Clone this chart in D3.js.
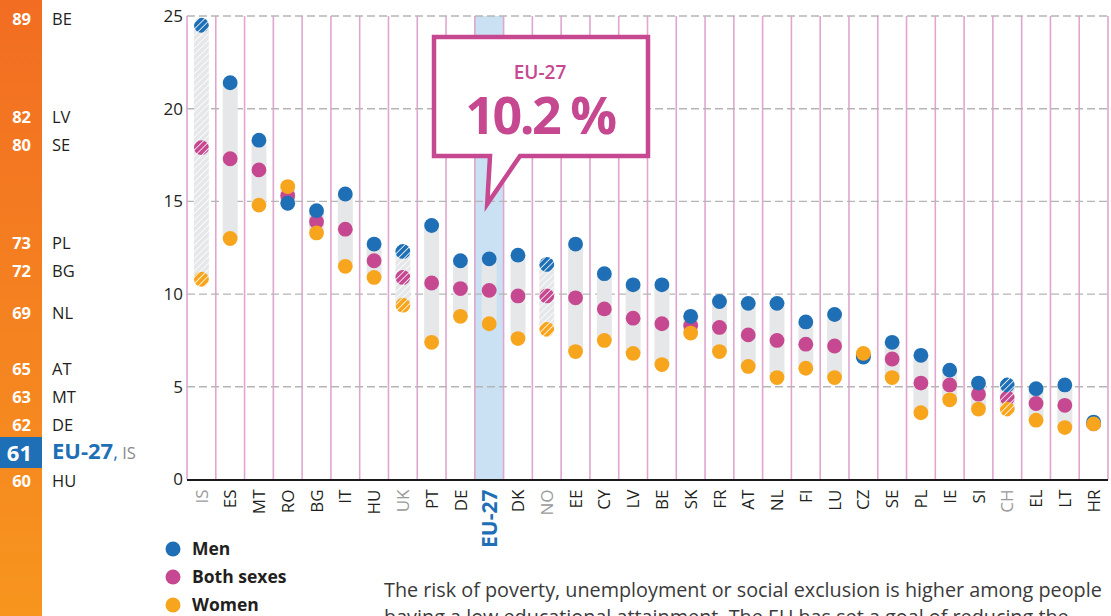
<!DOCTYPE html>
<html>
<head>
<meta charset="utf-8">
<script src="https://cdn.jsdelivr.net/npm/d3@7"></script>
<style>
  body { margin: 0; background: #fff; }
  svg { display: block; font-family: "Open Sans", "Noto Sans", sans-serif; }
</style>
</head>
<body>
<div id="chart"></div>
<script>
// countries, sorted by the men value as in the source
var categories = ["IS", "ES", "MT", "RO", "BG", "IT", "HU", "UK", "PT", "DE", "EU-27", "DK", "NO", "EE", "CY", "LV",
  "BE", "SK", "FR", "AT", "NL", "FI", "LU", "CZ", "SE", "PL", "IE", "SI", "CH", "EL", "LT", "HR"];
var menValues = [24.5, 21.4, 18.3, 14.9, 14.5, 15.4, 12.7, 12.3, 13.7, 11.8, 11.9, 12.1, 11.6, 12.7, 11.1, 10.5,
  10.5, 8.8, 9.6, 9.5, 9.5, 8.5, 8.9, 6.6, 7.4, 6.7, 5.9, 5.2, 5.1, 4.9, 5.1, 3.1];
var bothValues = [17.9, 17.3, 16.7, 15.3, 13.9, 13.5, 11.8, 10.9, 10.6, 10.3, 10.2, 9.9, 9.9, 9.8, 9.2, 8.7,
  8.4, 8.3, 8.2, 7.8, 7.5, 7.3, 7.2, 6.7, 6.5, 5.2, 5.1, 4.6, 4.4, 4.1, 4.0, 3.0];
var womenValues = [10.8, 13.0, 14.8, 15.8, 13.3, 11.5, 10.9, 9.4, 7.4, 8.8, 8.4, 7.6, 8.1, 6.9, 7.5, 6.8,
  6.2, 7.9, 6.9, 6.1, 5.5, 6.0, 5.5, 6.8, 5.5, 3.6, 4.3, 3.8, 3.8, 3.2, 2.8, 3.0];
var nonEU = ["IS", "UK", "NO", "CH"];
var yTicks = [0, 5, 10, 15, 20, 25];

// left strip: ranking cropped from the neighbouring chart
var rankValues = [89, 82, 80, 73, 72, 69, 65, 63, 62, 61, 60];
var rankLabels = ["BE", "LV", "SE", "PL", "BG", "NL", "AT", "MT", "DE", "EU-27", "HU"];

var seriesNames = ["Men", "Both sexes", "Women"];
var calloutLabel = "EU-27";
var calloutValue = "10.2 %";
var noteLines = [
  "The risk of poverty, unemployment or social exclusion is higher among people",
  "having a low educational attainment. The EU has set a goal of reducing the"
];

var colors = { "Men": "#1f6fb6", "Both sexes": "#c54891", "Women": "#f8a51e" };
var seriesValues = { "Men": menValues, "Both sexes": bothValues, "Women": womenValues };

var width = 1111, height = 616;
var svg = d3.select("#chart").append("svg")
  .attr("width", width)
  .attr("height", height);

var defs = svg.append("defs");

// orange strip gradient
var grad = defs.append("linearGradient").attr("id", "stripGrad")
  .attr("x1", 0).attr("y1", 0).attr("x2", 0).attr("y2", 1);
grad.append("stop").attr("offset", "0%").attr("stop-color", "#f26d22");
grad.append("stop").attr("offset", "100%").attr("stop-color", "#f7951e");

// hatch patterns for non EU countries
function hatch(id, bg) {
  var p = defs.append("pattern").attr("id", id)
    .attr("patternUnits", "userSpaceOnUse")
    .attr("width", 4.5).attr("height", 4.5)
    .attr("patternTransform", "rotate(45)");
  p.append("rect").attr("width", 4.5).attr("height", 4.5).attr("fill", bg);
  p.append("line").attr("x1", 0).attr("y1", 0).attr("x2", 0).attr("y2", 4.5)
    .attr("stroke", "#fff").attr("stroke-width", 1.6);
}
hatch("hatch-bar", "#e6e7e8");
seriesNames.forEach(function(s, i) { hatch("hatch-" + i, colors[s]); });

// left strip
svg.append("rect").attr("x", 0).attr("y", 0).attr("width", 42).attr("height", height)
  .attr("fill", "url(#stripGrad)");

// labels spaced 14px per point, at least 28px apart
var rankStep = d3.scaleLinear().domain([0, 1]).range([0, 14]);
var rankY = [];
rankValues.forEach(function(v, i) {
  if (i === 0) { rankY.push(19); return; }
  var gap = Math.max(28, rankStep(rankValues[i - 1] - v));
  rankY.push(rankY[i - 1] + gap);
});

var rank = svg.append("g").attr("class", "rank");
rankValues.forEach(function(v, i) {
  var isEU = rankLabels[i] === "EU-27";
  if (isEU) {
    rank.append("rect").attr("x", 0).attr("y", rankY[i] - 16).attr("width", 42).attr("height", 31)
      .attr("fill", "#1f6fb6");
  }
  rank.append("text")
    .attr("x", isEU ? 32 : 31).attr("y", rankY[i])
    .attr("dy", "0.36em")
    .attr("text-anchor", "end")
    .attr("fill", "#fff")
    .attr("font-weight", "bold")
    .attr("font-size", isEU ? 22 : 16.5)
    .text(v);
  var t = rank.append("text")
    .attr("x", 52).attr("y", rankY[i])
    .attr("dy", "0.36em")
    .attr("fill", "#231f20")
    .attr("font-size", 16.5);
  if (isEU) {
    t.append("tspan").attr("fill", "#1f6fb6").attr("font-weight", "bold").attr("font-size", 22).text("EU-27");
    t.append("tspan").attr("fill", "#1f6fb6").attr("font-size", 18).text(",");
    t.append("tspan").attr("fill", "#8a8a8a").attr("font-size", 16.5).text(" IS");
  } else {
    t.text(rankLabels[i]);
  }
});

// main chart scales
var x_scale = d3.scaleBand().domain(categories).range([187, 1108]).paddingInner(0).paddingOuter(0);
var y_scale = d3.scaleLinear().domain([0, 25]).range([479.5, 16]);
var bw = x_scale.bandwidth();

// EU-27 highlight column
svg.append("rect")
  .attr("x", x_scale("EU-27")).attr("y", y_scale(25))
  .attr("width", bw).attr("height", y_scale(0) - y_scale(25))
  .attr("fill", "#cae0f3");

// column separators
var seps = categories.map(function(c) { return x_scale(c); }).concat([x_scale.range()[1]]);
svg.append("g").selectAll("line").data(seps).enter().append("line")
  .attr("x1", function(d) { return d; }).attr("x2", function(d) { return d; })
  .attr("y1", y_scale(25)).attr("y2", y_scale(0))
  .attr("stroke", "#e0a6cf").attr("stroke-width", 1.6);

// dashed gridlines
svg.append("g").selectAll("line").data(yTicks.filter(function(d) { return d > 0; })).enter().append("line")
  .attr("x1", 187).attr("x2", 1108)
  .attr("y1", function(d) { return y_scale(d); }).attr("y2", function(d) { return y_scale(d); })
  .attr("stroke", "#b5b5b5").attr("stroke-width", 1.4).attr("stroke-dasharray", "8,4");

// y axis labels
var y_axis = d3.axisLeft(y_scale).tickValues(yTicks).tickSize(0).tickPadding(4);
var yg = svg.append("g").attr("transform", "translate(187,0)").call(y_axis);
yg.select(".domain").remove();
yg.selectAll("text").attr("font-size", 17).attr("fill", "#231f20")
  .attr("font-family", "\"Open Sans\", sans-serif");

// baseline
svg.append("line").attr("x1", 187).attr("x2", 1108)
  .attr("y1", y_scale(0) + 0.5).attr("y2", y_scale(0) + 0.5)
  .attr("stroke", "#1a1a1a").attr("stroke-width", 2);

// x labels
var xg = svg.append("g").attr("transform", "translate(0," + (y_scale(0) + 10) + ")")
  .call(d3.axisBottom(x_scale).tickSize(0).tickPadding(0));
xg.select(".domain").remove();
xg.selectAll("text")
  .attr("transform", "rotate(-90)")
  .attr("x", 0).attr("y", 0)
  .attr("dy", "0.36em")
  .style("text-anchor", "end")
  .attr("font-family", "\"Open Sans\", sans-serif")
  .attr("font-size", function(d) { return d === "EU-27" ? 21 : 17; })
  .attr("font-weight", function(d) { return d === "EU-27" ? "bold" : "normal"; })
  .attr("fill", function(d) {
    if (d === "EU-27") return "#1f6fb6";
    return nonEU.indexOf(d) >= 0 ? "#9a9a9a" : "#231f20";
  });

// range bars
var rows = categories.map(function(c, i) {
  return { label: c, men: menValues[i], both: bothValues[i], women: womenValues[i], hatched: nonEU.indexOf(c) >= 0 };
});
var barW = 15;
svg.append("g").selectAll("rect").data(rows).enter().append("rect")
  .attr("x", function(d) { return x_scale(d.label) + bw / 2 - barW / 2; })
  .attr("y", function(d) { return y_scale(Math.max(d.men, d.women)); })
  .attr("width", barW)
  .attr("height", function(d) { return Math.abs(y_scale(d.men) - y_scale(d.women)); })
  .attr("fill", function(d) { return d.hatched ? "url(#hatch-bar)" : "#e6e7e8"; });

// dots: both sexes under men under women
var r = 7.4;
["Both sexes", "Men", "Women"].forEach(function(s) {
  var idx = seriesNames.indexOf(s);
  var vals = seriesValues[s];
  svg.append("g").selectAll("circle").data(rows).enter().append("circle")
    .attr("cx", function(d) { return x_scale(d.label) + bw / 2; })
    .attr("cy", function(d, i) { return y_scale(vals[i]); })
    .attr("r", r)
    .attr("fill", function(d) { return d.hatched ? "url(#hatch-" + idx + ")" : colors[s]; });
});

// callout
var pink = "#c54891";
var tipX = x_scale("EU-27") + bw / 2 - 2;
svg.append("path")
  .attr("d", "M434,37 H648 V156 H520 L" + tipX + ",204 L490,156 H434 Z")
  .attr("fill", "#fff")
  .attr("stroke", pink)
  .attr("stroke-width", 4.5)
  .attr("stroke-linejoin", "miter");
svg.append("text").attr("x", 540).attr("y", 79)
  .attr("text-anchor", "middle").attr("fill", pink)
  .attr("font-size", 19).attr("font-weight", 600)
  .text(calloutLabel);
svg.append("text").attr("x", 540).attr("y", 134)
  .attr("text-anchor", "middle").attr("fill", pink)
  .attr("font-size", 52).attr("font-weight", "bold")
  .attr("letter-spacing", -2.5)
  .text(calloutValue);

// legend
var legend = svg.append("g");
seriesNames.forEach(function(s, i) {
  var y = 549 + i * 28;
  legend.append("circle").attr("cx", 173).attr("cy", y).attr("r", 7.5).attr("fill", colors[s]);
  legend.append("text").attr("x", 192).attr("y", y).attr("dy", "0.36em")
    .attr("font-size", 17.5).attr("font-weight", "bold").attr("fill", "#231f20")
    .text(s);
});

// note text
svg.append("g").selectAll("text").data(noteLines).enter().append("text")
  .attr("x", 384)
  .attr("y", function(d, i) { return 597 + i * 27; })
  .attr("font-size", 19.8)
  .attr("fill", "#3a3a3a")
  .text(function(d) { return d; });
</script>
</body>
</html>
